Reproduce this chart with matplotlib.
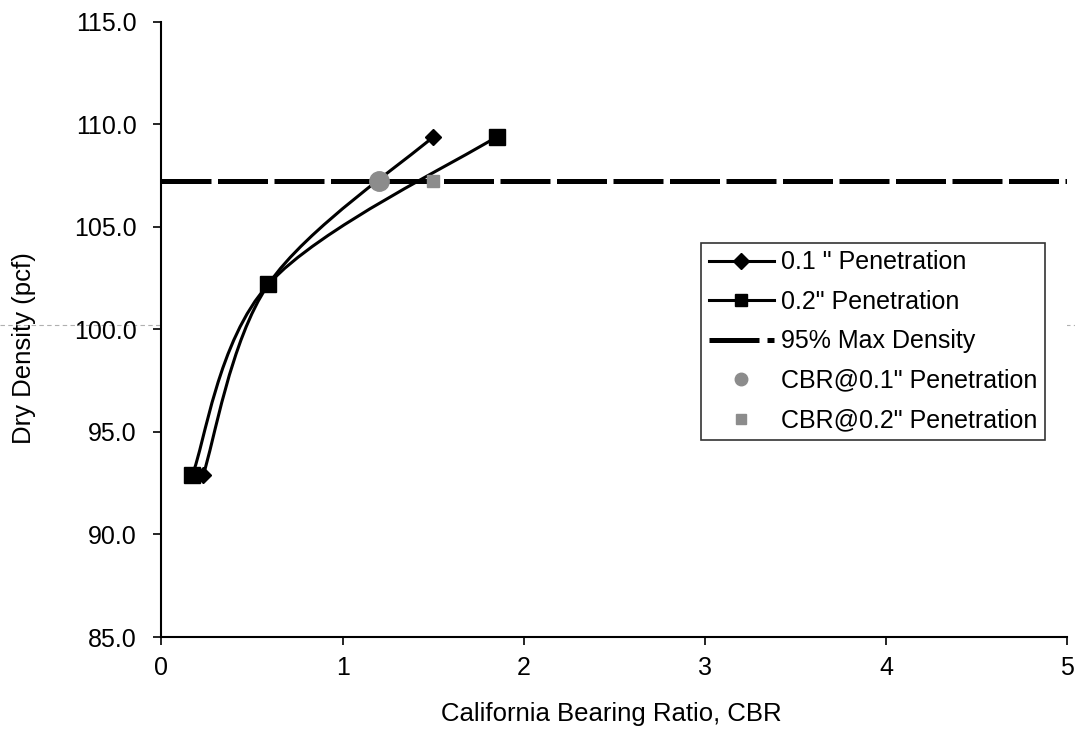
import matplotlib
matplotlib.use("Agg")
import matplotlib.pyplot as plt
from matplotlib.path import Path
from matplotlib.patches import PathPatch
from matplotlib.lines import Line2D
from matplotlib.ticker import FormatStrFormatter

plt.rcParams["font.family"] = ["Liberation Sans", "DejaVu Sans"]

# values
density = [92.9, 102.2, 109.4]
cbr_01 = [0.23, 0.59, 1.50]
cbr_02 = [0.17, 0.59, 1.85]
max_density_95 = 107.25
cbr_at_95 = [1.20, 1.50]
x_ticks = [0, 1, 2, 3, 4, 5]
y_ticks = [85, 90, 95, 100, 105, 110, 115]


def smooth_path(xs, ys):
    # Excel style smoothed line: cubic bezier through every point
    pts = list(zip(xs, ys))
    verts = [pts[0]]
    codes = [Path.MOVETO]
    n = len(pts)
    for i in range(n - 1):
        p0 = pts[i - 1] if i > 0 else pts[i]
        p1 = pts[i]
        p2 = pts[i + 1]
        p3 = pts[i + 2] if i + 2 < n else pts[i + 1]
        c1 = (p1[0] + (p2[0] - p0[0]) / 6, p1[1] + (p2[1] - p0[1]) / 6)
        c2 = (p2[0] - (p3[0] - p1[0]) / 6, p2[1] - (p3[1] - p1[1]) / 6)
        verts += [c1, c2, p2]
        codes += [Path.CURVE4] * 3
    return Path(verts, codes)


fig = plt.figure(figsize=(10.75, 7.42), dpi=100)
ax = fig.add_axes([0.1502, 0.1415, 0.8424, 0.8289])

# faint scan line across the page
fig.add_artist(Line2D([0, 1], [1 - 325 / 742, 1 - 325 / 742], transform=fig.transFigure,
                      color="#b0b0b0", lw=0.8, ls=(0, (4, 3)), zorder=0))

ax.add_patch(PathPatch(smooth_path(cbr_01, density), fill=False, edgecolor="black", lw=2.2, zorder=3))
ax.add_patch(PathPatch(smooth_path(cbr_02, density), fill=False, edgecolor="black", lw=2.2, zorder=3))
ax.plot(cbr_01, density, ls="none", marker="D", ms=8, color="black", zorder=4)
ax.plot(cbr_02, density, ls="none", marker="s", ms=11, color="black", zorder=4)

ax.axhline(max_density_95, color="black", lw=3.6, dashes=(10, 1.3), dash_capstyle="butt", zorder=2)

ax.plot(cbr_at_95[0], max_density_95, ls="none", marker="o", ms=14, color="#8c8c8c", zorder=5)
ax.plot(cbr_at_95[1], max_density_95, ls="none", marker="s", ms=9, color="#8c8c8c", zorder=5)

ax.set_xlim(0, 5)
ax.set_ylim(85, 115)
ax.set_xticks(x_ticks)
ax.set_yticks(y_ticks)
ax.yaxis.set_major_formatter(FormatStrFormatter("%.1f"))
ax.tick_params(axis="both", labelsize=18, length=6, width=1.2, color="black")
ax.tick_params(axis="y", pad=12)
ax.tick_params(axis="x", pad=8)
for side in ["top", "right"]:
    ax.spines[side].set_visible(False)
for side in ["left", "bottom"]:
    ax.spines[side].set_linewidth(1.5)

ax.set_xlabel("California Bearing Ratio, CBR", fontsize=18.5)
ax.xaxis.set_label_coords(0.497, -0.105)
ax.set_ylabel("Dry Density (pcf)", fontsize=18.5)
ax.yaxis.set_label_coords(-0.138, 0.47)

handles = [
    Line2D([], [], color="black", lw=2.2, marker="D", ms=8),
    Line2D([], [], color="black", lw=2.2, marker="s", ms=9),
    Line2D([], [], color="black", lw=3.6, dashes=(10, 1.6)),
    Line2D([], [], ls="none", marker="o", ms=9, color="#8c8c8c"),
    Line2D([], [], ls="none", marker="s", ms=7, color="#8c8c8c"),
]
labels = ['0.1 " Penetration', '0.2" Penetration', "95% Max Density",
          'CBR@0.1" Penetration', 'CBR@0.2" Penetration']
leg = ax.legend(handles, labels, loc="upper left", bbox_to_anchor=(0.596, 0.641),
                fontsize=18, frameon=True, fancybox=False, edgecolor="black",
                handlelength=2.6, handletextpad=0.3, labelspacing=0.62,
                borderpad=0.3, borderaxespad=0)
leg.get_frame().set_linewidth(1.2)

fig.savefig("out.png", dpi=100)
